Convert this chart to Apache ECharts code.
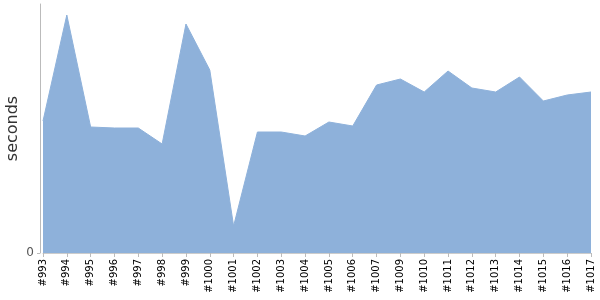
<!DOCTYPE html>
<html><head><meta charset="utf-8">
<script src="https://cdn.jsdelivr.net/npm/echarts@6/dist/echarts.min.js"></script>
<style>html,body{margin:0;padding:0;background:#fff}#c{width:600px;height:300px}</style>
</head><body><div id="c"></div>
<script>
var categories = ['#993','#994','#995','#996','#997','#998','#999','#1000','#1001','#1002','#1003','#1004','#1005','#1006','#1007','#1009','#1010','#1011','#1012','#1013','#1014','#1015','#1016','#1017'];
var seconds = [132,238,126,125,125,109,229,183,27,121,121,117,131,127,168,174,161,182,165,161,176,152,158,161];
var yTicks = [0];
var yMax = 249;

var chart = echarts.init(document.getElementById('c'), null, {renderer:'canvas'});
chart.setOption({
  animation:false,
  grid:{left:43,right:9,top:4,bottom:47,containLabel:false,outerBoundsMode:'none'},
  xAxis:{
    type:'category', data:categories, boundaryGap:false,
    axisLine:{show:true,lineStyle:{color:'#ccc'}},
    axisTick:{show:true,alignWithLabel:true,length:4,lineStyle:{color:'#bbb'}},
    axisLabel:{rotate:90,interval:0,fontSize:10,color:'#000',fontFamily:'DejaVu Sans',margin:6}
  },
  yAxis:{
    type:'value', min:0, max:yMax, offset:3,
    name:'seconds', nameLocation:'middle', nameGap:19, nameRotate:90, nameMoveOverlap:false,
    nameTextStyle:{fontSize:16,color:'#333',fontFamily:'DejaVu Sans'},
    axisLine:{show:true,lineStyle:{color:'#bbb'}},
    axisTick:{show:true,length:3,lineStyle:{color:'#bbb'},customValues:yTicks},
    splitLine:{show:false},
    axisLabel:{fontSize:12,color:'#555',fontFamily:'DejaVu Sans',margin:6,customValues:yTicks}
  },
  series:[{
    type:'line', data:seconds, showSymbol:false, symbol:'none',
    lineStyle:{width:1,color:'#8EB1DA'},
    areaStyle:{color:'#8EB1DA',opacity:1}
  }]
});
</script></body></html>
